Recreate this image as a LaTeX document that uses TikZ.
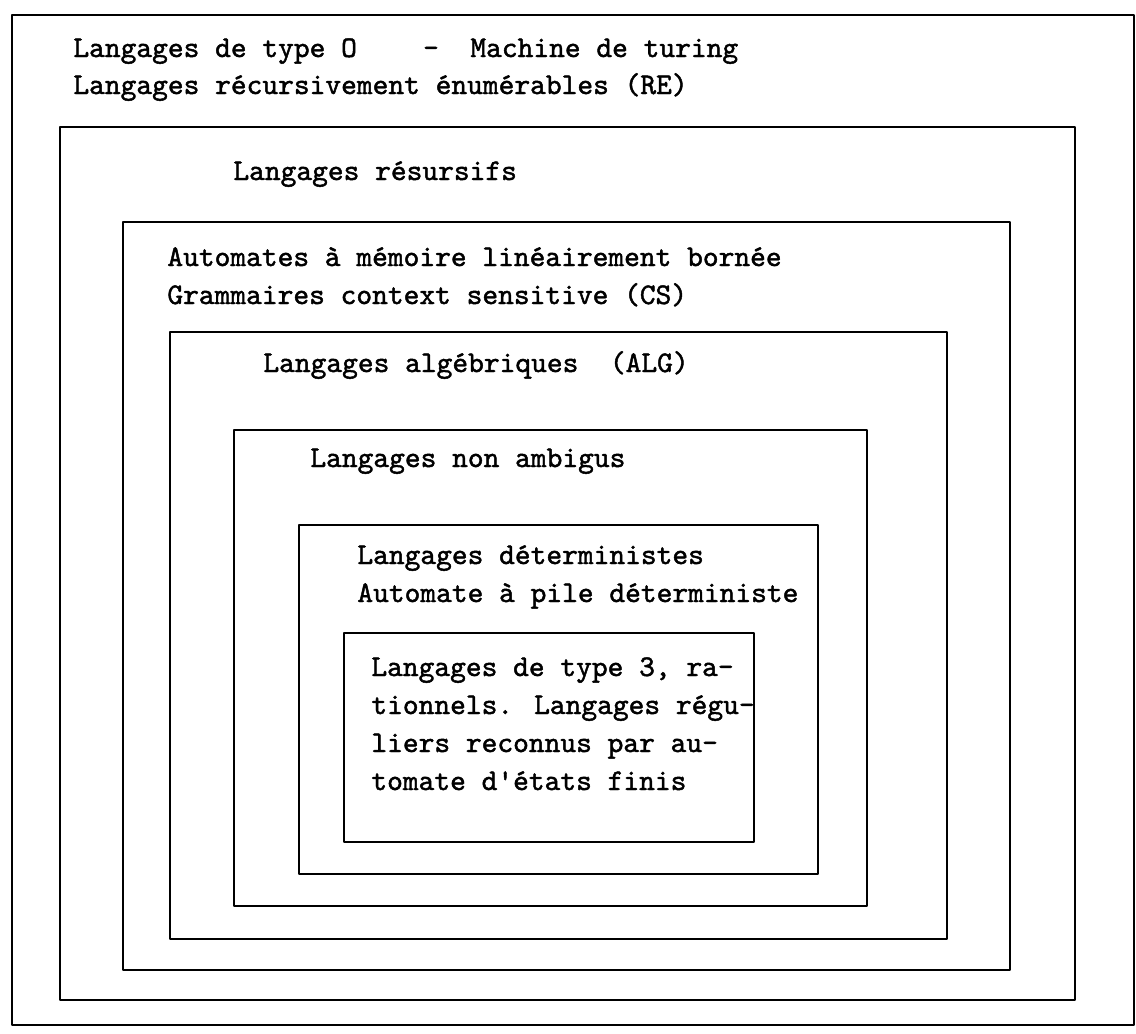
\documentclass[tikz,border=0pt]{standalone}
\usepackage{fontspec}
\newfontfamily\tw{lmmono10-regular}[Extension=.otf,FakeBold=1.5]
\begin{document}
\begin{tikzpicture}[x=0.5pt,y=-0.5pt,
  box/.style={line width=1.2pt, line join=round},
  lbl/.style={anchor=base west, inner sep=0pt, font=\tw\fontsize{15}{18}\selectfont}]
\useasboundingbox (0,0) rectangle (1136,1034);
% nested boxes
\draw[box] (12,15) rectangle (1134,1025);
\draw[box] (60,127) rectangle (1075,1000);
\draw[box] (123,222) rectangle (1010,970);
\draw[box] (170,332) rectangle (947,939);
\draw[box] (234,430) rectangle (867,906);
\draw[box] (299,525) rectangle (818,874);
\draw[box] (344,633) rectangle (754,842);
% texts
\node[lbl] (t0a) at (73,57) {Langages de type O};
\node[lbl, anchor=base] (t0b) at (431,57) {-};
\node[lbl] (t0c) at (470,57) {Machine de turing};
\node[lbl] (t1) at (73,94) {Langages récursivement énumérables (RE)};
\node[lbl] (t2) at (233,180) {Langages résursifs};
\node[lbl] (t3a) at (167,266) {Automates à mémoire linéairement bornée};
\node[lbl] (t3b) at (167,304) {Grammaires context sensitive (CS)};
\node[lbl] (t4) at (263,372) {Langages algébriques~~(ALG)};
\node[lbl] (t5) at (310,467) {Langages non ambigus};
\node[lbl] (t6a) at (357,564) {Langages déterministes};
\node[lbl] (t6b) at (357,602) {Automate à pile déterministe};
\node[lbl] (t7a) at (371,676) {Langages de type 3, ra-};
\node[lbl] (t7b) at (371,714) {tionnels. Langages régu-};
\node[lbl] (t7c) at (371,752) {liers reconnus par au-};
\node[lbl] (t7d) at (371,790) {tomate d'états finis};
\end{tikzpicture}
\end{document}
